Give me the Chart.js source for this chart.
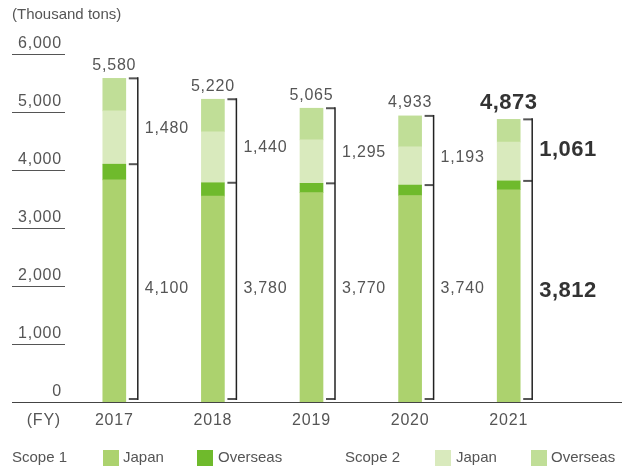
<html>
<head>
  <title>CO2 Emissions (Scope 1, 2)</title>
  <script src="https://cdn.jsdelivr.net/npm/chart.js"></script>
  <style>
    body { margin: 0; background: #fff; }
    canvas { display: block; }
  </style>
</head>
<body>
  <canvas id="emissions" width="625" height="473"></canvas>

  <script>
    // Fiscal years
    const years = ['2017', '2018', '2019', '2020', '2021'];

    // Segment values (thousand tons)
    const scope1Japan    = [3830, 3550, 3610, 3560, 3660];
    const scope1Overseas = [270, 230, 160, 180, 152];
    const scope2Japan    = [920, 880, 750, 660, 670];
    const scope2Overseas = [560, 560, 545, 533, 391];

    // Printed totals
    const scope1Totals = [4100, 3780, 3770, 3740, 3812];
    const scope2Totals = [1480, 1440, 1295, 1193, 1061];
    const grandTotals  = [5580, 5220, 5065, 4933, 4873];

    // Y axis ticks
    const yTicks = [0, 1000, 2000, 3000, 4000, 5000, 6000];

    const colors = {
      s1Japan: '#acd26e',
      s1Overseas: '#6fba2c',
      s2Japan: '#d9eabd',
      s2Overseas: '#c0de97'
    };

    const textColor = '#555';
    const fmt = n => n.toLocaleString('en-US');

    // Draws axes, labels, brackets and legend on top of the bars
    const decorations = {
      id: 'decorations',
      afterDraw(chart) {
        const ctx = chart.ctx;
        const x = chart.scales.x;
        const y = chart.scales.y;
        const last = years.length - 1;
        ctx.save();

        // unit label
        ctx.fillStyle = textColor;
        ctx.font = '15px "Liberation Sans", Arial, sans-serif';
        ctx.textAlign = 'left';
        ctx.textBaseline = 'middle';
        ctx.fillText('(Thousand tons)', 12, 15);

        // y tick labels with short underlines
        ctx.font = '16px "Liberation Sans", Arial, sans-serif';
        ctx.letterSpacing = '0.8px';
        ctx.textAlign = 'right';
        ctx.textBaseline = 'alphabetic';
        yTicks.forEach(t => {
          const py = y.getPixelForValue(t);
          ctx.fillText(fmt(t), 62, py - 6);
          if (t > 0) {
            ctx.strokeStyle = '#555';
            ctx.lineWidth = 1;
            ctx.beginPath();
            ctx.moveTo(12, Math.round(py) + 0.5);
            ctx.lineTo(65, Math.round(py) + 0.5);
            ctx.stroke();
          }
        });

        // baseline
        const y0 = Math.round(y.getPixelForValue(0)) + 0.5;
        ctx.strokeStyle = '#444';
        ctx.lineWidth = 1;
        ctx.beginPath();
        ctx.moveTo(12, y0);
        ctx.lineTo(622, y0);
        ctx.stroke();

        // x labels
        ctx.textBaseline = 'middle';
        ctx.textAlign = 'right';
        ctx.fillText('(FY)', 61, 421);
        ctx.textAlign = 'center';
        years.forEach((yr, i) => {
          ctx.fillText(yr, x.getPixelForValue(i), 421);
        });

        // scope 1 labels sit on one common line
        const s1y = y.getPixelForValue(1950);

        // totals, brackets and bracket labels
        years.forEach((yr, i) => {
          const cx = x.getPixelForValue(i);
          const bold = i === last;
          const yTop = y.getPixelForValue(grandTotals[i]);
          const yMid = y.getPixelForValue(scope1Totals[i]);
          const yBot = y.getPixelForValue(0) - 3;
          const bx = cx + 23.5;

          // total above the bar
          ctx.fillStyle = bold ? '#333' : textColor;
          ctx.font = bold ? 'bold 22px "Liberation Sans", Arial, sans-serif'
                          : '16px "Liberation Sans", Arial, sans-serif';
          ctx.letterSpacing = bold ? '0.5px' : '0.8px';
          ctx.textAlign = 'center';
          ctx.textBaseline = 'middle';
          ctx.fillText(fmt(grandTotals[i]), cx, yTop - (bold ? 16 : 13));

          // bracket
          ctx.strokeStyle = '#555';
          ctx.lineWidth = 2;
          [yTop, yMid, yBot].forEach(ty => {
            ctx.beginPath();
            ctx.moveTo(bx - 9, ty);
            ctx.lineTo(bx, ty);
            ctx.stroke();
          });
          ctx.strokeStyle = '#222';
          ctx.lineWidth = 1.5;
          ctx.beginPath();
          ctx.moveTo(bx, yTop - 1);
          ctx.lineTo(bx, yBot + 1);
          ctx.stroke();

          // scope labels
          ctx.textAlign = 'left';
          const s2y = (yTop + yMid) / 2 + (bold ? 0 : 7);
          ctx.fillText(fmt(scope2Totals[i]), bx + 7, s2y);
          ctx.fillText(fmt(scope1Totals[i]), bx + 7, s1y + (bold ? 2 : 0));
        });

        // legend
        ctx.letterSpacing = '0px';
        ctx.font = '15px "Liberation Sans", Arial, sans-serif';
        ctx.fillStyle = textColor;
        ctx.textAlign = 'left';
        ctx.textBaseline = 'middle';
        const ly = 458;
        ctx.fillText('Scope 1', 12, ly);
        ctx.fillText('Scope 2', 345, ly);
        const ds = chart.data.datasets;
        const legendX = [[103, 123], [197, 218], [435, 456], [531, 551]];
        ds.forEach((d, k) => {
          ctx.fillStyle = d.backgroundColor;
          ctx.fillRect(legendX[k][0], ly - 8, 16, 16);
          ctx.fillStyle = textColor;
          ctx.fillText(d.legendText, legendX[k][1], ly);
        });

        ctx.restore();
      }
    };

    const ctx = document.getElementById('emissions').getContext('2d');
    const emissionsChart = new Chart(ctx, {
      type: 'bar',
      data: {
        labels: years,
        datasets: [
          { label: 'Scope 1 Japan', legendText: 'Japan', data: scope1Japan, backgroundColor: colors.s1Japan },
          { label: 'Scope 1 Overseas', legendText: 'Overseas', data: scope1Overseas, backgroundColor: colors.s1Overseas },
          { label: 'Scope 2 Japan', legendText: 'Japan', data: scope2Japan, backgroundColor: colors.s2Japan },
          { label: 'Scope 2 Overseas', legendText: 'Overseas', data: scope2Overseas, backgroundColor: colors.s2Overseas }
        ]
      },
      options: {
        responsive: false,
        animation: false,
        datasets: {
          bar: { barThickness: 23, borderWidth: 0 }
        },
        layout: {
          padding: { left: 65, right: 67, top: 54, bottom: 71 }
        },
        plugins: {
          legend: { display: false },
          tooltip: { enabled: false }
        },
        scales: {
          x: { stacked: true, display: false },
          y: { stacked: true, display: false, min: 0, max: 6000 }
        }
      },
      plugins: [decorations]
    });
  </script>
</body>
</html>
